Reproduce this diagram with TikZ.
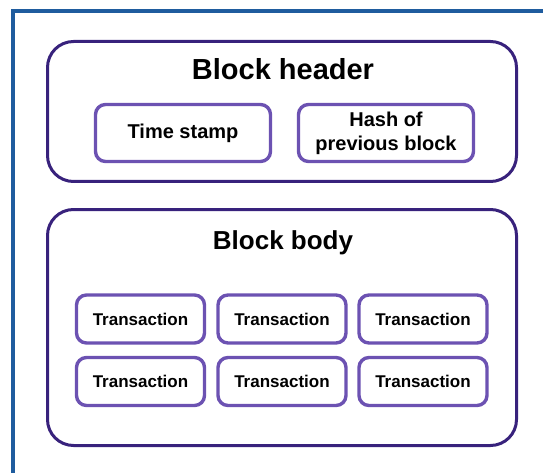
\documentclass[tikz,border=0pt]{standalone}
\usepackage{fontspec}
\setmainfont{Liberation Sans}
\definecolor{frameblue}{RGB}{31,92,158}
\definecolor{darkpurple}{RGB}{56,34,124}
\definecolor{lightpurple}{RGB}{108,82,178}
\tikzset{
  outer-box/.style={
    draw=darkpurple,
    line width=3pt,
    rounded corners=26pt,
    inner sep=0pt
  },
  inner-box/.style={
    draw=lightpurple,
    line width=3.4pt,
    rounded corners=10pt,
    align=center,
    inner sep=0pt,
    font=\bfseries\fontsize{20}{24}\selectfont
  },
  tx-box/.style={
    inner-box,
    minimum width=128pt,
    minimum height=48pt,
    font=\bfseries\fontsize{17}{20}\selectfont
  },
  box-title/.style={font=\bfseries\fontsize{29}{33}\selectfont}
}

\begin{document}
\begin{tikzpicture}[x=1pt,y=-1pt]
  \useasboundingbox (0,0) rectangle (543,473);
  % frame of the page
  \draw[frameblue, line width=3.6pt] (13,480) -- (13,11) -- (560,11);

  % header block
  \node[outer-box, minimum width=469pt, minimum height=140pt] (header) at (282,111.5) {};
  \node[box-title] (headertitle) at (283,69) {Block header};
  \node[inner-box, minimum width=175pt, minimum height=57pt] (stamp) at (183,133) {Time stamp};
  \node[inner-box, minimum width=175pt, minimum height=57pt] (prevhash) at (386,133) {Hash of\\previous block};

  % body block
  \node[outer-box, minimum width=469pt, minimum height=236pt] (body) at (282,327.5) {};
  \node[box-title, font=\bfseries\fontsize{26}{30}\selectfont] (bodytitle) at (283,243) {Block body};
  \foreach \row/\y in {1/319, 2/381.5} {
    \foreach \col/\x in {1/140.5, 2/282, 3/423} {
      \node[tx-box] (tx-\row-\col) at (\x,\y) {Transaction};
    }
  }
\end{tikzpicture}
\end{document}
